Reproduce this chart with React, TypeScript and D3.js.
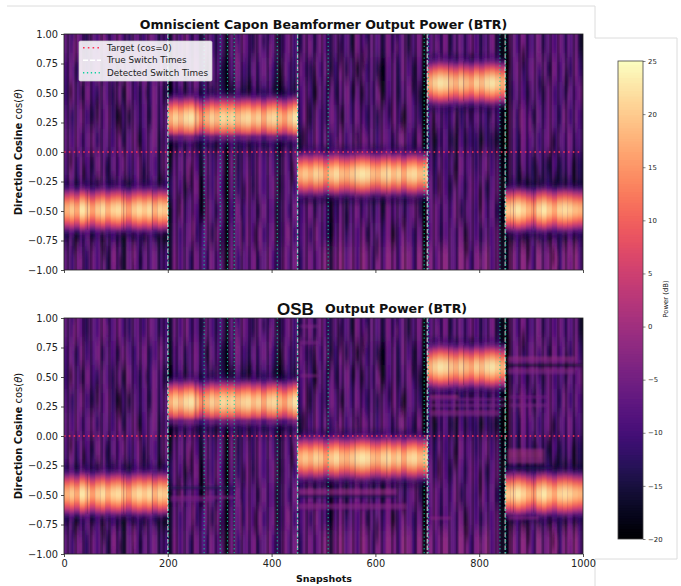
import React, { useEffect, useRef } from 'react'
import * as d3 from 'd3'

const width = 681
const height = 586

// switch times in snapshots
const trueSwitches = [200, 450, 700, 850]
const detectedSwitches = [201, 270, 301, 315, 328, 411, 450, 509, 694, 702, 840, 851]

// beam segments: start snapshot, end snapshot, direction cosine
const beamStarts = [0, 200, 450, 700, 850]
const beamEnds = [200, 450, 700, 850, 1000]
const beamCosines = [-0.49, 0.3, -0.19, 0.6, -0.48]

// peak power of the beam in each 10-snapshot column (dB)
const beamPeaks = [
  18, 20, 17, 23, 20, 16, 20, 22, 18, 21,
  22, 19, 16, 20, 22, 20, 22, 18, 21, 20,
  18, 21, 19, 22, 23, 19, 15, 18, 21, 19,
  22, 21, 22, 19, 21, 22, 19, 21, 17, 21,
  22, 19, 16, 20, 23, 18, 20, 18, 21, 20,
  16, 20, 22, 19, 18, 20, 22, 23, 22, 19,
  18, 21, 22, 19, 21, 17, 21, 22, 19, 20,
  18, 21, 23, 22, 20, 18, 21, 19, 17, 21,
  19, 22, 23, 21, 18, 20, 21, 23, 21, 18,
  16, 21, 23, 20, 17, 21, 22, 21, 19, 18,
]

// beam shape away from its centre, one entry per 0.025 of cosine
const beamFalloff = [0, -0.8, -2.8, -6, -9.5, -14, -19, -25, -30, -34, -36]
const beamCover = [1, 1, 1, 1, 1, 1, 0.95, 0.78, 0.42, 0.24, 0.08]

// noise floor in dB: rows run from cos = 1 down to cos = -1 in steps of 0.2, columns are 10 snapshots
const floorRows = [
  [
    -7, -10, -6, -9, -12, -7, -9, -6, -10, -8,
    -6, -9, -11, -7, -8, -10, -6, -8, -11, -9,
    -13, -7, -9, -6, -10, -8, -12, -7, -9, -11,
    -8, -14, -7, -10, -6, -9, -12, -7, -8, -10,
    -7, -13, -9, -6, -10, -12, -7, -8, -11, -6,
    -9, -12, -7, -10, -8, -13, -6, -9, -11, -7,
    -8, -12, -6, -10, -9, -7, -13, -8, -6, -14,
    -9, -7, -10, -6, -12, -8, -7, -10, -6, -9,
    -11, -8, -6, -12, -14, -15, -7, -9, -6, -10,
    -8, -6, -11, -7, -9, -6, -10, -8, -7, -13,
  ],
  [
    -9, -7, -11, -6, -10, -8, -6, -11, -7, -9,
    -12, -6, -8, -10, -7, -6, -11, -9, -6, -8,
    -14, -9, -7, -11, -8, -6, -10, -13, -7, -9,
    -12, -15, -8, -6, -9, -11, -7, -10, -6, -8,
    -10, -14, -7, -9, -11, -6, -10, -12, -7, -9,
    -7, -13, -10, -6, -12, -8, -14, -7, -10, -8,
    -12, -15, -8, -7, -11, -6, -9, -13, -8, -15,
    -7, -9, -6, -10, -8, -11, -6, -9, -12, -7,
    -9, -6, -10, -8, -15, -16, -8, -6, -11, -8,
    -6, -10, -7, -12, -6, -9, -7, -11, -6, -10,
  ],
  [
    -10, -6, -8, -12, -6, -9, -11, -7, -8, -12,
    -7, -13, -6, -9, -11, -7, -10, -6, -9, -12,
    -15, -10, -9, -13, -8, -7, -11, -9, -12, -8,
    -11, -15, -13, -8, -12, -14, -9, -12, -10, -9,
    -13, -15, -11, -10, -13, -9, -7, -10, -13, -7,
    -10, -7, -12, -8, -6, -11, -7, -13, -8, -10,
    -6, -14, -9, -7, -12, -8, -6, -10, -13, -16,
    -12, -14, -10, -13, -11, -9, -12, -14, -10, -12,
    -13, -11, -14, -12, -16, -16, -10, -7, -9, -12,
    -7, -9, -12, -6, -10, -8, -11, -7, -9, -6,
  ],
  [
    -8, -11, -7, -6, -10, -12, -7, -9, -6, -11,
    -14, -9, -13, -7, -10, -8, -12, -6, -10, -7,
    -15, -8, -9, -7, -8, -9, -10, -7, -8, -9,
    -8, -14, -8, -9, -7, -9, -8, -10, -8, -7,
    -9, -13, -8, -9, -10, -10, -6, -12, -7, -9,
    -11, -6, -8, -13, -7, -10, -6, -9, -11, -8,
    -12, -7, -10, -6, -9, -14, -7, -8, -11, -16,
    -9, -7, -8, -10, -9, -7, -11, -8, -9, -7,
    -9, -10, -7, -9, -15, -16, -7, -11, -6, -9,
    -12, -7, -10, -6, -8, -11, -6, -10, -7, -9,
  ],
  [
    -7, -9, -6, -10, -7, -6, -11, -8, -7, -10,
    -6, -12, -8, -6, -13, -9, -7, -6, -12, -8,
    -15, -13, -10, -12, -9, -13, -11, -10, -12, -14,
    -10, -16, -9, -12, -10, -13, -11, -9, -12, -10,
    -11, -15, -10, -12, -11, -13, -8, -10, -6, -9,
    -7, -11, -8, -6, -10, -7, -12, -6, -9, -7,
    -10, -6, -8, -11, -7, -6, -9, -12, -6, -15,
    -11, -14, -10, -8, -12, -13, -9, -12, -10, -11,
    -14, -10, -12, -13, -16, -16, -8, -11, -6, -9,
    -7, -10, -8, -6, -11, -7, -9, -6, -10, -8,
  ],
  [
    -8, -6, -10, -7, -9, -12, -6, -8, -11, -7,
    -9, -6, -10, -8, -6, -11, -7, -9, -12, -6,
    -14, -8, -7, -10, -6, -9, -13, -7, -10, -8,
    -7, -15, -6, -12, -8, -7, -11, -6, -9, -7,
    -8, -13, -7, -9, -6, -12, -8, -7, -11, -9,
    -12, -9, -11, -13, -10, -8, -11, -9, -10, -12,
    -9, -11, -8, -10, -12, -9, -11, -13, -10, -15,
    -9, -11, -7, -10, -8, -12, -6, -9, -7, -11,
    -8, -6, -10, -7, -15, -15, -8, -12, -7, -10,
    -12, -8, -11, -13, -9, -12, -10, -8, -12, -11,
  ],
  [
    -10, -7, -12, -8, -11, -9, -13, -7, -10, -12,
    -8, -11, -13, -9, -7, -12, -10, -8, -13, -10,
    -11, -7, -9, -13, -8, -6, -15, -8, -10, -6,
    -9, -16, -7, -11, -8, -6, -12, -7, -9, -8,
    -6, -14, -8, -7, -10, -9, -14, -12, -15, -12,
    -13, -15, -14, -11, -14, -12, -15, -13, -11, -14,
    -12, -15, -13, -12, -14, -11, -15, -13, -12, -15,
    -7, -10, -6, -9, -12, -7, -8, -11, -6, -9,
    -7, -12, -8, -6, -14, -15, -10, -13, -12, -14,
    -11, -14, -12, -10, -13, -12, -14, -11, -13, -12,
  ],
  [
    -9, -7, -11, -6, -8, -10, -7, -12, -6, -9,
    -11, -7, -9, -6, -10, -8, -6, -11, -9, -15,
    -14, -8, -6, -10, -7, -9, -15, -6, -8, -11,
    -7, -15, -9, -6, -10, -7, -8, -12, -6, -9,
    -8, -12, -7, -10, -6, -10, -8, -6, -11, -7,
    -9, -15, -10, -7, -12, -8, -6, -10, -7, -11,
    -8, -13, -6, -9, -7, -11, -8, -6, -12, -16,
    -8, -6, -10, -7, -9, -6, -12, -8, -7, -10,
    -6, -9, -7, -11, -15, -16, -7, -9, -6, -10,
    -8, -6, -11, -7, -9, -12, -6, -8, -10, -7,
  ],
  [
    -11, -8, -13, -10, -7, -12, -9, -13, -8, -10,
    -12, -14, -9, -12, -10, -13, -8, -11, -13, -14,
    -13, -7, -10, -8, -6, -11, -9, -7, -12, -6,
    -9, -15, -7, -8, -11, -6, -9, -7, -10, -8,
    -6, -12, -8, -6, -10, -9, -7, -11, -6, -8,
    -10, -15, -8, -6, -11, -7, -9, -6, -12, -8,
    -7, -10, -6, -14, -9, -6, -8, -11, -7, -16,
    -9, -6, -11, -8, -7, -10, -6, -13, -7, -9,
    -11, -7, -9, -6, -14, -15, -12, -9, -13, -11,
    -8, -12, -10, -13, -9, -11, -13, -8, -12, -10,
  ],
  [
    -7, -10, -6, -8, -11, -6, -9, -7, -12, -6,
    -8, -13, -7, -6, -10, -7, -8, -6, -11, -9,
    -13, -6, -9, -7, -11, -6, -8, -10, -6, -9,
    -7, -14, -6, -10, -7, -8, -6, -11, -7, -6,
    -9, -12, -6, -8, -6, -11, -7, -6, -9, -6,
    -5, -13, -6, -4, -8, -5, -9, -4, -6, -10,
    -5, -8, -4, -6, -9, -4, -5, -10, -4, -13,
    -5, -8, -6, -4, -7, -9, -4, -6, -10, -5,
    -7, -4, -9, -6, -13, -15, -5, -8, -4, -6,
    -9, -4, -7, -5, -4, -10, -5, -6, -4, -8,
  ],
]
const floorContrast = 1.5

// fine vertical texture per 5 snapshots: -1 dark line, 1 light line, 0 nothing
const columnShade = [
  0, -1, 1, 0, -1, 0, 1, -1, 0, 1, -1, 0, 0, 1, -1, 1, 0, -1, 0, 1,
  -1, 1, 0, -1, 1, 0, -1, 0, 1, -1, 0, 1, -1, 0, 1, 0, -1, 1, -1, 0,
  -1, 0, 1, -1, 0, 1, -1, 1, 0, -1, 1, 0, -1, 0, 1, -1, 1, 0, -1, 1,
  0, -1, -1, 1, 0, -1, 1, 0, -1, 0, 1, -1, 0, 1, -1, 1, 0, 0, -1, 1,
  0, -1, 1, 0, -1, 1, 0, -1, 0, 1, -1, 0, 1, -1, 1, 0, -1, 1, 0, -1,
  1, -1, 0, 1, 0, -1, 1, -1, 0, 1, 0, -1, 1, 0, -1, 1, 0, -1, 1, -1,
  0, 1, -1, 0, 1, 0, -1, 1, -1, 0, 1, -1, 0, 1, 0, -1, 1, 0, -1, -1,
  0, 1, -1, 0, 1, -1, 1, 0, -1, 0, 1, -1, 1, 0, -1, 1, 0, -1, 0, 1,
  -1, 1, 0, -1, 0, 1, -1, 0, -1, -1, 0, 1, -1, 1, 0, -1, 1, 0, -1, 1,
  0, -1, 1, 0, -1, 1, 0, -1, 1, 0, -1, 0, 1, -1, 1, 0, -1, 1, 0, -1,
]

// thin streaks: snapshot, upper cosine, lower cosine
const darkMarks: [number, number, number][] = [
  [13, 0.58, 0.44], [109, 0.35, 0.15], [64, 0.46, 0.24], [160, 0.55, 0.46], [205, 0.6, 0.49],
  [270, 1, 0.9], [299, 0.63, 0.52], [315, 0.63, 0.52], [417, 0.72, 0.52], [360, 0.6, 0.52],
  [385, 1, 0.89], [411, 1, 0.91], [482, 0.72, 0.44], [472, 0.44, 0.21], [462, 0.21, 0.04],
  [510, 0.63, 0.49], [532, 0.97, 0.72], [558, 0.6, 0.46], [577, 0.86, 0.69], [609, 0.72, 0.52],
  [628, 0.44, 0.27], [651, 0.32, 0.18], [673, 0.63, 0.49], [693, 1, 0], [712, 0.35, 0.15],
  [757, 0.35, 0.15], [783, 0.38, 0.24], [821, 0.41, 0.27], [844, 1, 0], [856, 0.86, 0.69],
  [885, 0.89, 0.72], [917, 0.63, 0.52], [943, 0.15, 0], [969, 0.69, 0.52],
  [13, 0, -0.14], [39, -0.11, -0.25], [83, -0.08, -0.25], [154, -0.11, -0.25], [186, -0.2, -0.28],
  [196, -0.48, -0.73], [222, -0.34, -0.56], [244, -0.11, -0.34], [270, -0.37, -0.56], [302, -0.68, -0.9],
  [313, 0, -1], [347, -0.25, -0.42], [369, -0.62, -0.82], [411, -0.42, -0.79], [440, -0.06, -0.28],
  [109, -0.88, -1], [19, -0.71, -0.85], [77, -0.76, -0.9], [148, -0.85, -1], [180, -0.68, -0.73],
  [516, -0.59, -0.7], [545, -0.48, -0.65], [603, -0.71, -0.9], [654, -0.56, -0.65], [696, -0.62, -1],
  [722, -0.17, -0.37], [754, -0.08, -0.28], [776, -0.76, -0.88], [802, -0.28, -0.51], [840, 0, -1],
  [879, -0.14, -0.28], [911, -0.08, -0.25], [950, -0.17, -0.28], [895, -0.73, -0.93], [943, -0.82, -0.96],
  [982, -0.06, -0.25],
]
const brightMarks: [number, number, number][] = [
  [648, 0.18, 0.04], [564, 0.12, 0.01], [526, 0.1, 0], [583, 0.15, 0], [802, -0.88, -1],
  [950, -0.85, -0.99], [975, -0.76, -0.9], [96, -0.79, -0.96], [32, -0.88, -1], [135, -0.76, -0.93],
  [238, -0.03, -0.28], [250, -0.56, -0.73], [340, -0.56, -0.85], [379, -0.62, -0.85], [430, -0.59, -0.76],
  [19, 0.97, 0.75], [83, 0.97, 0.83], [334, 0.94, 0.72], [398, 0.94, 0.72], [475, 0.97, 0.8],
  [583, 0.94, 0.77], [641, 0.94, 0.83], [720, 0.94, 0.86], [917, 0.83, 0.72], [879, 0.38, 0.18],
  [898, 0.32, 0.15],
]

// thin dark lines through the bright beams, by snapshot
const beamDips = [45, 115, 170, 254, 267, 411, 561, 622, 741, 770, 866, 905]

// extra horizontal streaks of the OSB panel: start, end, cosine, power in dB
const osbStreaks: [number, number, number, number][] = [
  [205, 330, -0.44, -14],
  [205, 330, -0.52, -3],
  [205, 290, -0.545, -5],
  [450, 640, -0.46, -1],
  [450, 640, -0.485, -1],
  [450, 640, -0.51, -14],
  [450, 660, -0.585, -2],
  [450, 660, -0.61, -3],
  [455, 490, 0.51, -3],
  [455, 490, 0.79, -4],
  [455, 490, 0.93, -4],
  [705, 760, 0.335, 0],
  [705, 850, 0.31, -5],
  [705, 850, 0.26, -4],
  [705, 840, 0.205, -2],
  [705, 840, 0.18, -4],
  [705, 745, -0.695, -2],
  [855, 985, 0.66, -1],
  [855, 985, 0.635, -3],
  [855, 1000, 0.6, -16],
  [855, 985, 0.56, -2],
  [855, 985, 0.535, -4],
  [860, 930, 0.33, -5],
  [860, 930, 0.26, -4],
  [855, 925, -0.12, 0],
  [855, 925, -0.145, 1],
  [855, 925, -0.17, 1],
  [855, 925, -0.195, 0],
  [855, 925, -0.22, -1],
  [855, 940, -0.27, -14],
  [855, 915, -0.695, -2],
]

const xTicks = [0, 200, 400, 600, 800, 1000]
const yTicks = [-1, -0.75, -0.5, -0.25, 0, 0.25, 0.5, 0.75, 1]
const powerTicks = [-20, -15, -10, -5, 0, 5, 10, 15, 20, 25]

const font = '"DejaVu Sans", sans-serif'
const colWidth = 10
const rowStep = 0.025
const targetColor = '#ff3358'
const detectedColor = '#10d0a0'

const power = d3.scaleSequential(d3.interpolateMagma).domain([-20, 25])
const x = d3.scaleLinear().domain([0, 1000]).range([64, 583])

function drawPanel(
  svg: d3.Selection<SVGSVGElement, unknown, null, undefined>,
  id: string,
  top: number,
  bottom: number,
  withOsb: boolean,
) {
  const y = d3.scaleLinear().domain([-1, 1]).range([bottom, top])
  const root = svg.append('g')

  root.append('clipPath').attr('id', 'clip-' + id)
    .append('rect')
    .attr('x', 64).attr('y', top).attr('width', 519).attr('height', bottom - top)

  const image = root.append('g').attr('clip-path', `url(#clip-${id})`)

  // noise floor
  const floorCells = floorRows.flatMap((row, r) => row.map((db, c) => ({ r, c, db })))
  image.append('g')
    .attr('filter', 'url(#blur-floor)')
    .selectAll('rect')
    .data(floorCells)
    .join('rect')
    .attr('x', d => x(d.c * colWidth) - (d.c === 0 ? 6 : 0))
    .attr('width', d => x(colWidth) - x(0) + 0.3 + (d.c === 0 || d.c === 99 ? 6 : 0))
    .attr('y', d => y(1 - d.r * 0.2) - (d.r === 0 ? 30 : 0))
    .attr('height', d => y(0) - y(0.2) + 0.3 + (d.r === 0 || d.r === 9 ? 30 : 0))
    .attr('fill', d => power(-9.5 + (d.db + 9) * floorContrast))

  // fine vertical lines across the whole floor
  image.append('g')
    .attr('filter', 'url(#blur-line)')
    .selectAll('rect')
    .data(columnShade)
    .join('rect')
    .attr('x', (d, i) => x(i * 5))
    .attr('width', x(5) - x(0))
    .attr('y', top)
    .attr('height', bottom - top)
    .attr('fill', d => (d < 0 ? power(-20) : power(0)))
    .attr('fill-opacity', d => (d === 0 ? 0 : d < 0 ? 0.28 : 0.16))

  // fine streaks on the floor
  const marks = image.append('g').attr('filter', 'url(#blur-mark)')
  marks.selectAll('rect.dark')
    .data(darkMarks)
    .join('rect')
    .attr('class', 'dark')
    .attr('x', d => x(d[0]) - 1.2)
    .attr('width', 2.4)
    .attr('y', d => y(d[1]))
    .attr('height', d => y(d[2]) - y(d[1]))
    .attr('fill', power(-19))
    .attr('fill-opacity', 0.6)
  marks.selectAll('rect.bright')
    .data(brightMarks)
    .join('rect')
    .attr('class', 'bright')
    .attr('x', d => x(d[0]) - 1.5)
    .attr('width', 3)
    .attr('y', d => y(d[1]))
    .attr('height', d => y(d[2]) - y(d[1]))
    .attr('fill', power(-1))
    .attr('fill-opacity', 0.5)

  // beam, built from the falloff table around each segment's centre
  const beamCells: { c: number; cos: number; db: number; cover: number }[] = []
  beamPeaks.forEach((peak, c) => {
    const snap = c * colWidth
    const seg = beamStarts.findIndex((s, i) => snap >= s && snap < beamEnds[i])
    d3.range(80).forEach(i => {
      const cos = -1 + (i + 0.5) * rowStep
      const k = Math.round(Math.abs(cos - beamCosines[seg]) / rowStep)
      if (k < beamFalloff.length) {
        beamCells.push({ c, cos, db: peak + beamFalloff[k], cover: beamCover[k] })
      }
    })
  })
  image.append('g')
    .attr('filter', 'url(#blur-beam)')
    .selectAll('rect')
    .data(beamCells)
    .join('rect')
    .attr('x', d => x(d.c * colWidth))
    .attr('width', x(colWidth) - x(0) + 0.3)
    .attr('y', d => y(d.cos + rowStep / 2))
    .attr('height', y(0) - y(rowStep) + 0.3)
    .attr('fill', d => power(d.db))
    .attr('fill-opacity', d => d.cover)

  image.selectAll('rect.dip')
    .data(beamDips)
    .join('rect')
    .attr('class', 'dip')
    .attr('x', d => x(d) - 0.5)
    .attr('width', 1)
    .attr('y', d => y(beamCosines[beamStarts.findIndex((s, i) => d >= s && d < beamEnds[i])] + 0.17))
    .attr('height', y(0) - y(0.34))
    .attr('fill', '#2a0a40')
    .attr('fill-opacity', 0.26)

  if (withOsb) {
    image.append('g')
      .attr('filter', 'url(#blur-streak)')
      .selectAll('rect')
      .data(osbStreaks)
      .join('rect')
      .attr('x', d => x(d[0]))
      .attr('width', d => x(d[1]) - x(d[0]))
      .attr('y', d => y(d[2] + rowStep / 2))
      .attr('height', y(0) - y(rowStep))
      .attr('fill', d => power(d[3]))
      .attr('fill-opacity', 0.62)
  }

  // switch markers
  image.selectAll('line.true')
    .data(trueSwitches)
    .join('line')
    .attr('class', 'true')
    .attr('x1', d => x(d)).attr('x2', d => x(d))
    .attr('y1', top).attr('y2', bottom)
    .attr('stroke', '#fff')
    .attr('stroke-width', 1.3)
    .attr('stroke-opacity', 0.65)
    .attr('stroke-dasharray', '4.5 2')
  image.selectAll('line.detected')
    .data(detectedSwitches)
    .join('line')
    .attr('class', 'detected')
    .attr('x1', d => x(d)).attr('x2', d => x(d))
    .attr('y1', top).attr('y2', bottom)
    .attr('stroke', detectedColor)
    .attr('stroke-width', 1.1)
    .attr('stroke-opacity', 0.85)
    .attr('stroke-dasharray', '1.3 2.6')
  image.append('line')
    .attr('x1', 64).attr('x2', 581)
    .attr('y1', y(0)).attr('y2', y(0))
    .attr('stroke', targetColor)
    .attr('stroke-width', 1.5)
    .attr('stroke-dasharray', '1.6 3.2')

  root.append('rect')
    .attr('x', 64).attr('y', top).attr('width', 519).attr('height', bottom - top)
    .attr('fill', 'none').attr('stroke', '#222').attr('stroke-width', 0.8)

  const yAxis = d3.axisLeft(y).tickValues(yTicks).tickSize(3).tickPadding(3).tickFormat(d3.format('.2f') as any)
  const xAxis = d3.axisBottom(x).tickValues(xTicks).tickSize(3).tickPadding(3).tickFormat(d3.format('d') as any)
  const yG = root.append('g').attr('transform', 'translate(64,0)').call(yAxis)
  const xG = root.append('g').attr('transform', `translate(0,${bottom})`).call(xAxis)
  yG.select('.domain').remove()
  xG.select('.domain').remove()
  if (withOsb === false) xG.selectAll('text').remove()
  root.selectAll('.tick text').attr('font-family', font).attr('font-size', 9.8).attr('fill', '#222')
  root.selectAll('.tick line').attr('stroke', '#222').attr('stroke-width', 0.8)

  const yLabel = root.append('text')
    .attr('transform', `translate(22,${(top + bottom) / 2}) rotate(-90)`)
    .attr('text-anchor', 'middle')
    .attr('font-family', font)
    .attr('font-size', 10)
    .attr('fill', '#111')
  yLabel.append('tspan').attr('font-weight', 'bold').text('Direction Cosine')
  yLabel.append('tspan').text(' cos(')
  yLabel.append('tspan').attr('font-style', 'italic').text('θ')
  yLabel.append('tspan').text(')')
}

export default function App() {
  const svgRef = useRef<SVGSVGElement>(null)

  useEffect(() => {
    const svg = d3.select(svgRef.current!)
    svg.selectAll('*').remove()

    const defs = svg.append('defs')
    const blur = (id: string, dev: string) => defs.append('filter')
      .attr('id', id)
      .attr('filterUnits', 'userSpaceOnUse')
      .attr('x', 0).attr('y', 0).attr('width', width).attr('height', height)
      .append('feGaussianBlur').attr('stdDeviation', dev)
    blur('blur-floor', '0.9 7')
    blur('blur-line', '0.5 0')
    blur('blur-mark', '0.8 5')
    blur('blur-beam', '0.5 1.5')
    blur('blur-streak', '1.5 0.8')

    // page outlines behind the figure
    svg.append('path')
      .attr('d', 'M7,6H595V38H677V559H595V586')
      .attr('fill', 'none')
      .attr('stroke', '#dcdcdc')
      .attr('stroke-width', 1)

    drawPanel(svg, 'top', 34, 270, false)
    drawPanel(svg, 'bottom', 318, 554, true)

    svg.append('text')
      .attr('x', 323.5).attr('y', 29)
      .attr('text-anchor', 'middle')
      .attr('font-family', font).attr('font-weight', 'bold').attr('font-size', 12.6)
      .attr('fill', '#111')
      .text('Omniscient Capon Beamformer Output Power (BTR)')
    svg.append('text')
      .attr('x', 325).attr('y', 312.5)
      .attr('font-family', font).attr('font-weight', 'bold').attr('font-size', 12.6)
      .attr('fill', '#111')
      .text('Output Power (BTR)')
    svg.append('text')
      .attr('x', 277).attr('y', 315)
      .attr('font-family', '"Liberation Sans", sans-serif').attr('font-weight', 'bold').attr('font-size', 17)
      .attr('fill', '#111')
      .text('OSB')
    svg.append('text')
      .attr('x', 324).attr('y', 582)
      .attr('text-anchor', 'middle')
      .attr('font-family', font).attr('font-weight', 'bold').attr('font-size', 9.5)
      .attr('fill', '#111')
      .text('Snapshots')

    // legend
    const legend = svg.append('g')
    legend.append('rect')
      .attr('x', 79).attr('y', 41).attr('width', 133).attr('height', 40)
      .attr('rx', 1.5)
      .attr('fill', '#fff').attr('fill-opacity', 0.88)
      .attr('stroke', '#ccc').attr('stroke-width', 0.7)
    const legendLabels = ['Target (cos=0)', 'True Switch Times', 'Detected Switch Times']
    const legendColors = [targetColor, '#fff', detectedColor]
    const legendDash = ['1.6 3.2', '5 2', '1.3 2.6']
    legendLabels.forEach((label, i) => {
      const ly = 47.7 + i * 12.5
      legend.append('line')
        .attr('x1', 83).attr('x2', 101).attr('y1', ly).attr('y2', ly)
        .attr('stroke', legendColors[i])
        .attr('stroke-width', i === 1 ? 1.6 : 1.4)
        .attr('stroke-dasharray', legendDash[i])
      legend.append('text')
        .attr('x', 107).attr('y', ly + 3)
        .attr('font-family', font).attr('font-size', 8.8)
        .attr('fill', '#222')
        .text(label)
    })

    // colorbar
    const cbar = d3.scaleLinear().domain([-20, 25]).range([539, 61])
    const bar = svg.append('g')
    bar.selectAll('rect')
      .data(d3.range(-20, 25, 0.25))
      .join('rect')
      .attr('x', 618).attr('width', 25)
      .attr('y', d => cbar(d + 0.25))
      .attr('height', d => (d === -20 ? cbar(0) - cbar(0.25) : cbar(0) - cbar(0.25) + 1))
      .attr('fill', d => power(d + 0.125))
    bar.append('rect')
      .attr('x', 618).attr('y', 61).attr('width', 25).attr('height', 478)
      .attr('fill', 'none').attr('stroke', '#444').attr('stroke-width', 0.8)
    const cAxis = svg.append('g').attr('transform', 'translate(643,0)')
      .call(d3.axisRight(cbar).tickValues(powerTicks).tickSize(2.5).tickPadding(2.5))
    cAxis.select('.domain').remove()
    cAxis.selectAll('text').attr('font-family', font).attr('font-size', 6.9).attr('fill', '#222')
    cAxis.selectAll('line').attr('stroke', '#333').attr('stroke-width', 0.6)
    svg.append('text')
      .attr('transform', 'translate(668,299) rotate(-90)')
      .attr('text-anchor', 'middle')
      .attr('font-family', font).attr('font-size', 6.9)
      .attr('fill', '#222')
      .text('Power (dB)')
  }, [])

  return (
    <svg
      ref={svgRef}
      width={width}
      height={height}
      style={{ position: 'absolute', left: 0, top: 0, background: '#fff' }}
    />
  )
}
